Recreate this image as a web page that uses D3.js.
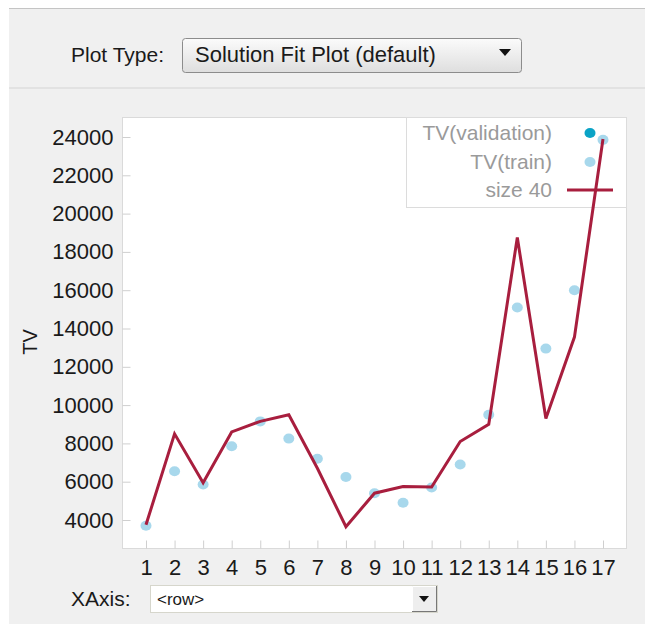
<!DOCTYPE html>
<html>
<head>
<meta charset="utf-8">
<script src="https://cdn.jsdelivr.net/npm/d3@7"></script>
<style>
  body { margin: 0; background: #fff; }
  text { font-family: "Liberation Sans", Arial, sans-serif; }
</style>
</head>
<body>
<svg id="chart"></svg>
<script>
const rows = [1, 2, 3, 4, 5, 6, 7, 8, 9, 10, 11, 12, 13, 14, 15, 16, 17];
const trainValues = [3700, 6550, 5850, 7850, 9150, 8250, 7200, 6250, 5400, 4900, 5700, 6900, 9500, 15100, 12950, 16000, 23850];
const fitValues = [3750, 8500, 5950, 8600, 9150, 9500, 6700, 3650, 5400, 5750, 5720, 8100, 9000, 18750, 9300, 13550, 23900];
const yTicks = [4000, 6000, 8000, 10000, 12000, 14000, 16000, 18000, 20000, 22000, 24000];
const legendLabels = ['TV(validation)', 'TV(train)', 'size 40'];

const w = 645, h = 624;
const plot = { left: 122, right: 626, top: 117, bottom: 548 };
const fitColor = '#a81e3e', trainColor = '#a8d8ec', validColor = '#0aa3c6';

const svg = d3.select('#chart').attr('width', w).attr('height', h);

// panel chrome
svg.append('rect').attr('x', 9).attr('y', 8).attr('width', w - 9).attr('height', h - 8).style('fill', '#f0f0f0');
svg.append('line').attr('x1', 9).attr('x2', w).attr('y1', 8.5).attr('y2', 8.5).style('stroke', '#c4c4c4');
svg.append('line').attr('x1', 9).attr('x2', w).attr('y1', 88).attr('y2', 88).style('stroke', '#e2e2e2').style('stroke-width', 2);

const defs = svg.append('defs');
const grad = defs.append('linearGradient').attr('id', 'btn').attr('x1', 0).attr('x2', 0).attr('y1', 0).attr('y2', 1);
grad.append('stop').attr('offset', '0%').attr('stop-color', '#fbfbfb');
grad.append('stop').attr('offset', '100%').attr('stop-color', '#dedede');

svg.append('text').attr('x', 71).attr('y', 62).style('font-size', '21px').style('fill', '#1a1a1a').text('Plot Type:');
svg.append('rect').attr('x', 182.5).attr('y', 38.5).attr('width', 339).attr('height', 34).attr('rx', 3)
  .style('fill', 'url(#btn)').style('stroke', '#8c8c8c');
svg.append('text').attr('x', 195).attr('y', 62).style('font-size', '22px').style('fill', '#1a1a1a').text('Solution Fit Plot (default)');
svg.append('path').attr('d', 'M499,49L511,49L505,56Z').style('fill', '#111');

// plot area
svg.append('rect').attr('x', plot.left + 0.5).attr('y', plot.top + 0.5)
  .attr('width', plot.right - plot.left).attr('height', plot.bottom - plot.top)
  .style('fill', '#fff').style('stroke', '#dadada');

const xScale = d3.scaleLinear().domain([1, 17]).range([146, 603]);
const yScale = d3.scaleLinear().domain([4000, 24000]).range([520, 137]);

const yAxis = svg.append('g')
  .attr('transform', `translate(${plot.left + 0.5}, 0)`)
  .call(d3.axisLeft(yScale).tickValues(yTicks).tickSize(-8).tickPadding(9).tickFormat(d3.format('d')));
yAxis.select('.domain').remove();
yAxis.selectAll('line').style('stroke', '#cfcfcf');
yAxis.selectAll('text').style('font-size', '22px').style('fill', '#1a1a1a').style('font-family', '"Liberation Sans", Arial, sans-serif');

const xAxis = svg.append('g')
  .attr('transform', `translate(0, ${plot.bottom + 0.5})`)
  .call(d3.axisBottom(xScale).tickValues(rows).tickSize(-8).tickPadding(11).tickFormat(d3.format('d')));
xAxis.select('.domain').remove();
xAxis.selectAll('line').style('stroke', '#cfcfcf');
xAxis.selectAll('text').style('font-size', '22px').style('fill', '#1a1a1a').style('font-family', '"Liberation Sans", Arial, sans-serif');

svg.append('text')
  .attr('transform', 'translate(37, 342) rotate(-90)')
  .attr('text-anchor', 'middle')
  .style('font-size', '20px').style('fill', '#1a1a1a')
  .text('TV');

// legend sits under the data marks
const legend = svg.append('g');
legend.append('rect').attr('x', 406.5).attr('y', plot.top + 0.5).attr('width', plot.right - 406).attr('height', 90)
  .style('fill', '#fff').style('stroke', '#dcdcdc');
const legendY = [133, 162, 190];
legend.selectAll('.legend-label')
  .data(legendLabels)
  .enter()
  .append('text')
  .attr('class', 'legend-label')
  .attr('x', 552)
  .attr('y', (d, i) => legendY[i])
  .attr('dy', '0.35em')
  .attr('text-anchor', 'end')
  .style('font-size', '21px')
  .style('fill', '#9a9a9a')
  .text(d => d);
legend.append('ellipse').attr('cx', 590).attr('cy', legendY[0]).attr('rx', 5.5).attr('ry', 5).style('fill', validColor);
legend.append('ellipse').attr('cx', 590).attr('cy', legendY[1]).attr('rx', 5.5).attr('ry', 5).style('fill', trainColor);
legend.append('line').attr('x1', 567).attr('x2', 613).attr('y1', legendY[2]).attr('y2', legendY[2])
  .style('stroke', fitColor).style('stroke-width', 3);

// train points
svg.selectAll('.dot')
  .data(rows)
  .enter()
  .append('ellipse')
  .attr('class', 'dot')
  .attr('cx', d => xScale(d))
  .attr('cy', (d, i) => yScale(trainValues[i]))
  .attr('rx', 5.5)
  .attr('ry', 5)
  .style('fill', trainColor);

// fitted line
const line = d3.line()
  .x(d => xScale(d))
  .y((d, i) => yScale(fitValues[i]));

svg.append('path')
  .datum(rows)
  .attr('d', line)
  .style('fill', 'none')
  .style('stroke', fitColor)
  .style('stroke-width', 3)
  .style('stroke-linejoin', 'miter');

// x axis selector
svg.append('text').attr('x', 71).attr('y', 606).style('font-size', '21px').style('fill', '#1a1a1a').text('XAxis:');
svg.append('rect').attr('x', 150.5).attr('y', 585.5).attr('width', 287).attr('height', 27)
  .style('fill', '#fff').style('stroke', '#d6d6cc');
svg.append('rect').attr('x', 412).attr('y', 586).attr('width', 25).attr('height', 26).style('fill', '#eeeeee');
svg.append('path').attr('d', 'M412.5,612V586.5H437').style('fill', 'none').style('stroke', '#fff');
svg.append('path').attr('d', 'M412,611.5H436.5V586').style('fill', 'none').style('stroke', '#777');
svg.append('path').attr('d', 'M419,596L429,596L424,602Z').style('fill', '#111');
svg.append('text').attr('x', 157).attr('y', 605).style('font-size', '17px').style('fill', '#1a1a1a').text('<row>');
</script>
</body>
</html>
